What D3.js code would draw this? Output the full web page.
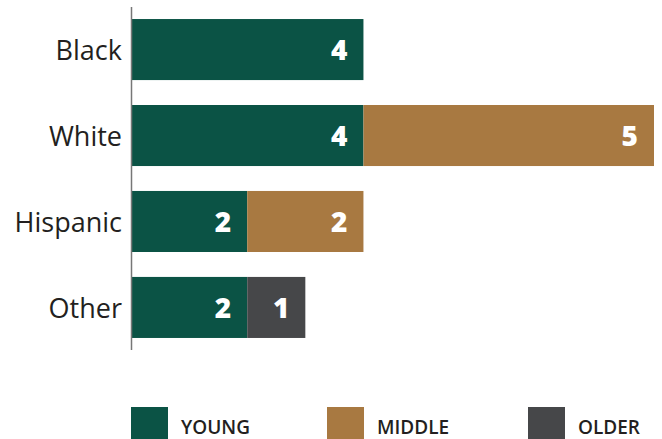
<!DOCTYPE html>
<html>
<head>
<meta charset="utf-8">
<script src="https://cdn.jsdelivr.net/npm/d3@7"></script>
<style>
  html, body { margin: 0; padding: 0; background: #fff; }
  svg { display: block; }
</style>
</head>
<body>
<svg id="chart" width="662" height="439"></svg>
<script>
// Counts by group and age band
const categories = ["Black", "White", "Hispanic", "Other"];
const seriesNames = ["YOUNG", "MIDDLE", "OLDER"];
const young  = [4, 4, 2, 2];
const middle = [0, 5, 2, 0];
const older  = [0, 0, 0, 1];
const colors = ["#0b5345", "#a87941", "#464749"];

const rows = categories.map((c, i) => ({
  category: c, YOUNG: young[i], MIDDLE: middle[i], OLDER: older[i]
}));

const svg = d3.select("#chart");
const x0 = 131;

const x = d3.scaleLinear().domain([0, 9]).range([x0, 654]);
const y = d3.scaleBand().domain(categories).range([7, 350]).paddingInner(0.29).paddingOuter(0.14);

const stacked = d3.stack().keys(seriesNames)(rows);

const layer = svg.selectAll("g.layer")
  .data(stacked)
  .join("g")
  .attr("class", "layer")
  .attr("fill", (d, i) => colors[i]);

layer.selectAll("rect")
  .data(d => d.filter(s => s[1] - s[0] > 0))
  .join("rect")
  .attr("x", d => x(d[0]))
  .attr("y", d => y(d.data.category))
  .attr("width", d => x(d[1]) - x(d[0]))
  .attr("height", y.bandwidth());

// Value labels inside the right end of each segment
layer.selectAll("text")
  .data(d => d.filter(s => s[1] - s[0] > 0).map(s => ({ s, v: s[1] - s[0] })))
  .join("text")
  .attr("x", d => x(d.s[1]) - 16)
  .attr("y", d => y(d.s.data.category) + y.bandwidth() / 2)
  .attr("dy", "0.36em")
  .attr("text-anchor", "end")
  .attr("fill", "#fff")
  .style("font-family", "'Open Sans', sans-serif")
  .style("font-weight", 800)
  .style("font-size", "28px")
  .text(d => d.v);

// Category axis
const axis = d3.axisLeft(y).tickSize(0).tickPadding(9);
const gAxis = svg.append("g")
  .attr("transform", `translate(${x0},0)`)
  .call(axis);
gAxis.select(".domain")
  .attr("d", `M0.5,7V350`)
  .attr("stroke", "#777")
  .attr("stroke-width", 1.5);
gAxis.selectAll("text")
  .attr("dy", "0.4em")
  .attr("fill", "#231f20")
  .style("font-family", "'Open Sans', sans-serif")
  .style("font-size", "27px");

// Legend
const legendX = [131, 327, 528];
const legend = svg.selectAll("g.legend")
  .data(seriesNames)
  .join("g")
  .attr("class", "legend")
  .attr("transform", (d, i) => `translate(${legendX[i]},407)`);
legend.append("rect")
  .attr("width", 37)
  .attr("height", 34)
  .attr("fill", (d, i) => colors[i]);
legend.append("text")
  .attr("x", 50)
  .attr("y", 27)
  .attr("fill", "#231f20")
  .style("font-family", "'Open Sans', sans-serif")
  .style("font-weight", 600)
  .style("font-size", "19px")
  .text(d => d);
</script>
</body>
</html>
